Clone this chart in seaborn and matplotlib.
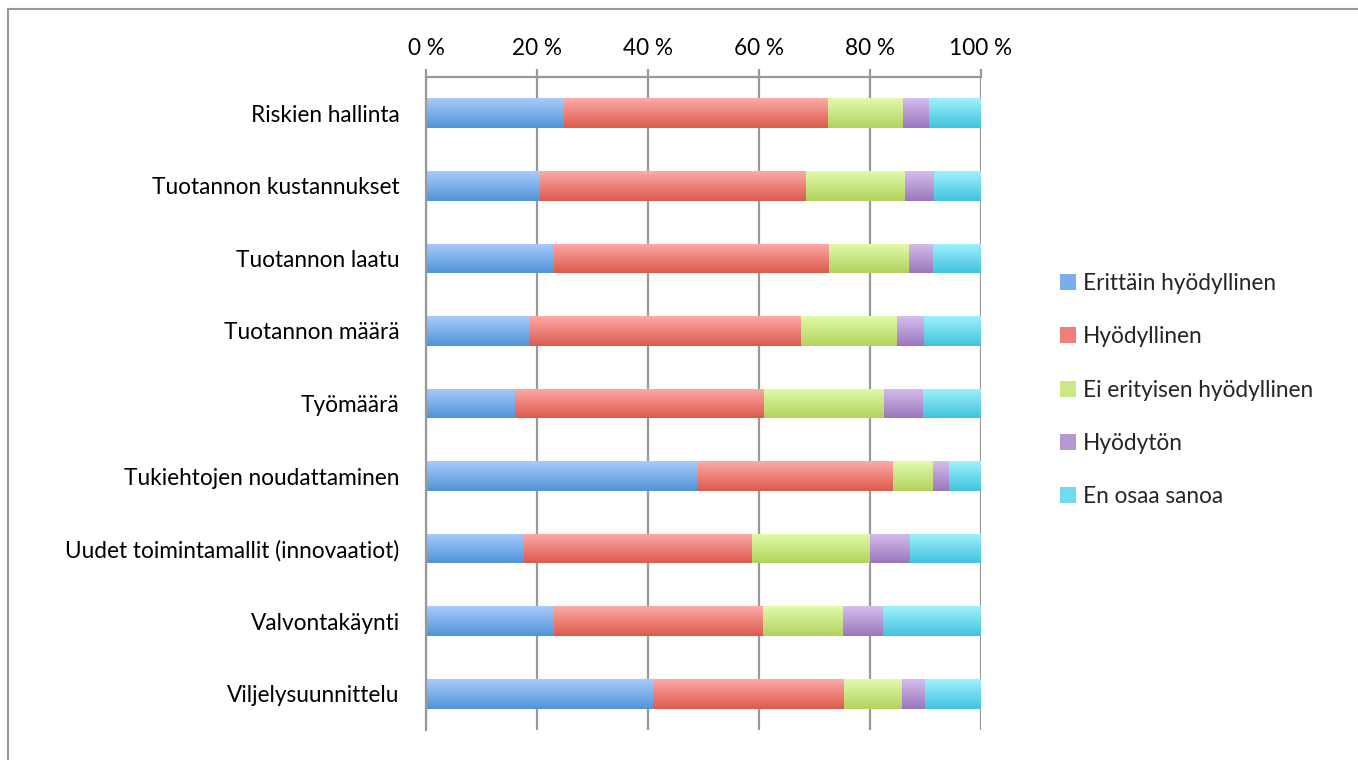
import numpy as np
import pandas as pd
import matplotlib
matplotlib.use("Agg")
import matplotlib.pyplot as plt
import seaborn as sns
from matplotlib.patches import Patch, Rectangle
from matplotlib.colors import LinearSegmentedColormap

categories = ["Riskien hallinta", "Tuotannon kustannukset", "Tuotannon laatu",
              "Tuotannon määrä", "Työmäärä", "Tukiehtojen noudattaminen",
              "Uudet toimintamallit (innovaatiot)", "Valvontakäynti", "Viljelysuunnittelu"]
series = ["Erittäin hyödyllinen", "Hyödyllinen", "Ei erityisen hyödyllinen",
          "Hyödytön", "En osaa sanoa"]
erittain = [24.7, 20.4, 22.9, 18.4, 16.0, 48.8, 17.5, 22.9, 40.9]
hyodyllinen = [47.6, 47.9, 49.7, 49.0, 44.9, 35.3, 41.1, 37.8, 34.4]
ei_erityisen = [13.5, 18.0, 14.4, 17.3, 21.6, 7.1, 21.4, 14.3, 10.3]
hyodyton = [4.7, 5.2, 4.2, 5.0, 7.0, 3.0, 7.2, 7.2, 4.3]
en_osaa = [9.5, 8.5, 8.8, 10.3, 10.5, 5.8, 12.8, 17.8, 10.1]
xticks = [0, 20, 40, 60, 80, 100]
xticklabels = ["0 %", "20 %", "40 %", "60 %", "80 %", "100 %"]

light = ["#a8cbfb", "#fdaaa6", "#e3faab", "#d5bdee", "#9ef1fd"]
dark = ["#5094d9", "#dc5a4e", "#b2d35e", "#9a77bb", "#43c3de"]
mid = ["#7aaeeb", "#ee8079", "#cbe887", "#b698d4", "#72dbee"]

df = pd.DataFrame({"kategoria": categories, series[0]: erittain,
                   series[1]: hyodyllinen, series[2]: ei_erityisen,
                   series[3]: hyodyton, series[4]: en_osaa})
cum = df[series].cumsum(axis=1)

sns.set_style("white")
plt.rcParams["font.family"] = ["Lato", "DejaVu Sans"]
FS = 16.3

fig = plt.figure(figsize=(13.58, 7.6), dpi=100)
ax = fig.add_axes([426 / 1358, 1 - 730 / 760, 555 / 1358, 653 / 760])

# stacked bars: draw totals first, then smaller cumulative sums on top
for i in range(len(series) - 1, -1, -1):
    n_before = len(ax.patches)
    sns.barplot(x=cum[series[i]], y=df["kategoria"], color=mid[i], orient="h",
                width=0.41, ax=ax, zorder=2)
    cmap = LinearSegmentedColormap.from_list("g%d" % i, [light[i], dark[i]])
    grad = np.linspace(0, 1, 64).reshape(-1, 1)
    for p in ax.patches[n_before:]:
        x0, y0 = p.get_x(), p.get_y()
        w, h = p.get_width(), p.get_height()
        p.set_visible(False)
        im = ax.imshow(grad, cmap=cmap, aspect="auto", origin="upper",
                       extent=(x0, x0 + w, y0 + h, y0), zorder=2 + (len(series) - i) * 0.01,
                       interpolation="bilinear")
        clip = Rectangle((x0, y0), w, h, transform=ax.transData)
        im.set_clip_path(clip)

ax.set_xlim(0, 100)
ax.set_ylim(len(categories) - 0.5, -0.5)
ax.set_xlabel("")
ax.set_ylabel("")
ax.set_axisbelow(True)

ax.xaxis.tick_top()
ax.set_xticks(xticks)
ax.set_xticklabels(xticklabels, fontsize=FS)
ax.tick_params(axis="x", which="major", length=6, width=1.6, color="#999999", pad=7,
               top=True, bottom=False, labelcolor="black")
ax.grid(axis="x", color="#999999", linewidth=1.6)
ax.grid(axis="y", visible=False)

ax.set_yticks(range(len(categories)))
ax.set_yticklabels(categories, fontsize=FS)
ax.set_yticks(np.arange(-0.5, len(categories), 1), minor=True)
ax.tick_params(axis="y", which="major", length=0, pad=19, labelcolor="black")
ax.tick_params(axis="y", which="minor", length=8, width=1.6, color="#999999")

for side in ["right", "bottom"]:
    ax.spines[side].set_visible(False)
for side in ["top", "left"]:
    ax.spines[side].set_color("#999999")
    ax.spines[side].set_linewidth(1.6)

handles = [Patch(facecolor=mid[i], edgecolor="none", label=series[i]) for i in range(len(series))]
fig.legend(handles=handles, loc="center left", bbox_to_anchor=(1060 / 1358, 1 - 390 / 760),
           frameon=False, fontsize=FS, handlelength=0.72, handleheight=0.72,
           handletextpad=0.3, labelspacing=1.43, borderpad=0, borderaxespad=0)

# outer chart frame
fig.add_artist(Rectangle((8 / 1358, -0.1), 2, 1.1 - 9 / 760, transform=fig.transFigure,
                         fill=False, edgecolor="#999999", linewidth=1.5))

fig.savefig("out.png", dpi=100)
